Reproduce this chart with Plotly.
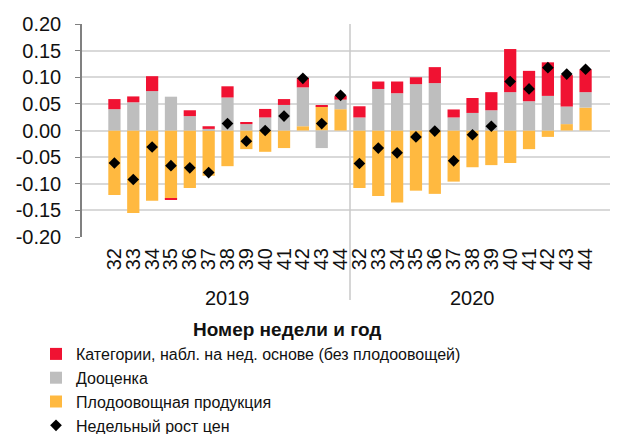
import plotly.graph_objects as go

years = ["2019"] * 13 + ["2020"] * 13
weeks = [str(w) for w in range(32, 45)] * 2

fruit_veg = [-0.121, -0.155, -0.132, -0.128, -0.108, -0.085, -0.067, -0.035, -0.040, -0.033, 0.008, 0.045, 0.040,
             -0.108, -0.123, -0.135, -0.113, -0.119, -0.096, -0.069, -0.065, -0.061, -0.035, -0.012, 0.012, 0.043]
reassess = [0.040, 0.053, 0.074, 0.0635, 0.027, 0.003, 0.062, 0.012, 0.0245, 0.048, 0.073, -0.033, 0.018,
            0.0245, 0.078, 0.070, 0.087, 0.089, 0.0245, 0.033, 0.038, 0.072, 0.055, 0.065, 0.033, 0.029]
weekly_cats = [0.019, 0.011, 0.028, -0.0025, 0.011, 0.005, 0.021, 0.004, 0.016, 0.011, 0.018, 0.0015, 0.007,
               0.021, 0.014, 0.022, 0.013, 0.030, 0.015, 0.028, 0.034, 0.081, 0.057, 0.063, 0.059, 0.043]
price_growth = [-0.061, -0.092, -0.031, -0.066, -0.070, -0.079, 0.013, -0.020, 0.000, 0.027, 0.098, 0.013, 0.066,
                -0.062, -0.033, -0.042, -0.012, -0.001, -0.057, -0.008, 0.008, 0.092, 0.078, 0.118, 0.106, 0.115]

ytick_vals = [0.20, 0.15, 0.10, 0.05, 0.0, -0.05, -0.10, -0.15, -0.20]
ytick_text = ["0.20", "0.15", "0.10", "0.05", "0.00", "-0.05", "-0.10", "-0.15", "-0.20"]

cats = [f"{y}-{w}" for y, w in zip(years, weeks)]

RED = "#F01232"
GRAY = "#BEBEBE"
YELLOW = "#FFB940"
FONT = "Liberation Sans, Arial, sans-serif"

fig = go.Figure()
fig.add_trace(go.Bar(x=cats, y=fruit_veg, name="Плодоовощная продукция",
                     marker=dict(color=YELLOW, line=dict(width=0)), legendrank=3))
fig.add_trace(go.Bar(x=cats, y=reassess, name="Дооценка",
                     marker=dict(color=GRAY, line=dict(width=0)), legendrank=2))
fig.add_trace(go.Bar(x=cats, y=weekly_cats, name="Категории, набл. на нед. основе (без плодоовощей)",
                     marker=dict(color=RED, line=dict(width=0)), legendrank=1))
fig.add_trace(go.Scatter(x=cats, y=price_growth, mode="markers", name="Недельный рост цен",
                         marker=dict(symbol="diamond", color="black", size=9), legendrank=4))

# page body has an 8px offset; plot area in window px: x 82..618, y 24..237
OFF = 8
PL, PT, PR, PB = 82, 24, 618, 237
PW, PH = PR - PL, PB - PT

# year group labels and divider
for yr in ["2019", "2020"]:
    idx = [i for i, y in enumerate(years) if y == yr]
    fig.add_annotation(x=(idx[0] + idx[-1]) / 2, y=-(298 - PB) / PH, xref="x", yref="paper", text=yr,
                       showarrow=False, font=dict(size=20, color="#111", family=FONT), yanchor="middle")
fig.add_shape(type="line", xref="x", yref="paper", x0=12.5, x1=12.5, y0=-(300 - PB) / PH, y1=1.0,
              line=dict(color="#C8C8C8", width=1.5))
fig.add_annotation(x=(287 - PL) / PW, y=-(330 - PB) / PH, xref="paper", yref="paper",
                   text="<b>Номер недели и год</b>", showarrow=False,
                   font=dict(size=19, color="#111", family=FONT), yanchor="middle")

fig.update_layout(
    width=618, height=434,
    margin=dict(l=PL - OFF, r=618 - PR + OFF, t=PT - OFF, b=434 - (PB - OFF), autoexpand=False),
    barmode="relative", bargap=0.35,
    plot_bgcolor="white", paper_bgcolor="white",
    font=dict(family=FONT, size=20, color="#111"),
    showlegend=True,
    legend=dict(x=(36 - PL) / PW, y=-(337 - PB) / PH, xanchor="left", yanchor="top",
                traceorder="normal", font=dict(size=16, color="#111", family=FONT),
                itemwidth=30, tracegroupgap=0, bgcolor="rgba(0,0,0,0)"),
)
fig.update_xaxes(type="category", tickvals=cats, ticktext=weeks, tickangle=-90, showgrid=False,
                 showline=False, ticks="", ticklabelstandoff=6,
                 tickfont=dict(size=20, family=FONT, color="#111"))
fig.update_yaxes(range=[-0.2, 0.2], tickvals=ytick_vals, ticktext=ytick_text, showgrid=True,
                 gridcolor="#D9D9D9", gridwidth=1.5, zeroline=False, showline=True, linecolor="#808080",
                 linewidth=1.5, ticks="outside", ticklen=5, tickcolor="#808080", ticklabelstandoff=10,
                 tickfont=dict(size=20, family=FONT, color="#111"))

fig.write_html("out.html")
